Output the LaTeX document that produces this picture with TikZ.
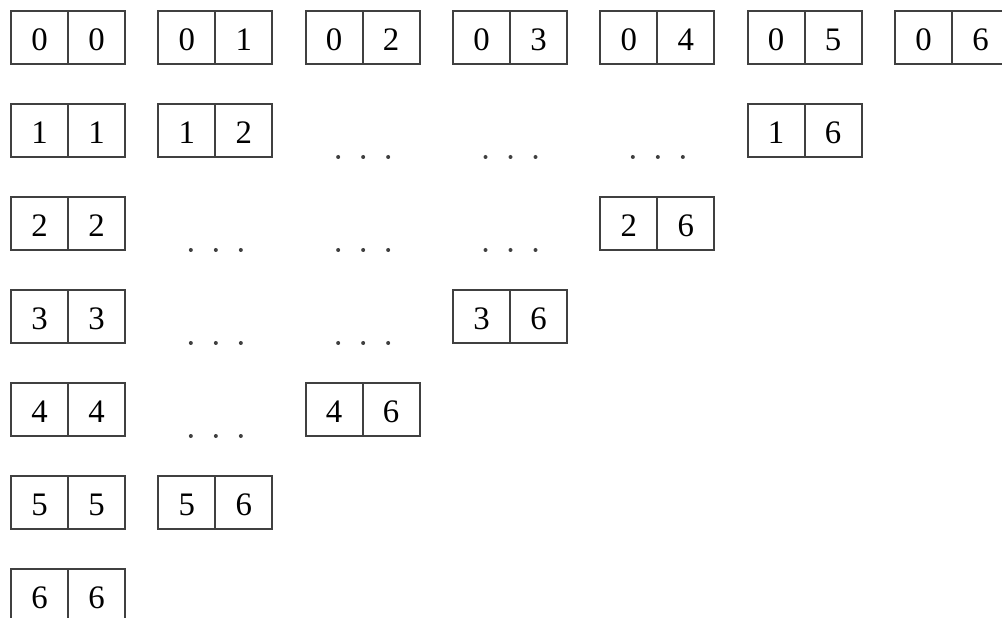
\documentclass[tikz,border=0pt]{standalone}
\usepackage{fontspec}
\setmainfont{Liberation Serif}
\usetikzlibrary{positioning}

\begin{document}
\begin{tikzpicture}[
    x=0.25pt, y=-0.25pt,
    half/.style={draw=black!75, line width=0.5pt, minimum width=14.25pt, minimum height=13.25pt,
        inner sep=0pt, outer sep=0pt, text height=6.3pt, text depth=0pt,
        font=\fontsize{8.2}{10}\selectfont},
    pip/.style={fill=black!75}
]

\useasboundingbox (0,0) rectangle (1002,618);
\clip (0,0) rectangle (1002,618);

% Dominoes: row / column / left half / right half
\foreach \r/\c/\a/\b in {0/0/0/0, 0/1/0/1, 0/2/0/2, 0/3/0/3, 0/4/0/4, 0/5/0/5, 0/6/0/6,
    1/0/1/1, 1/1/1/2, 1/5/1/6,
    2/0/2/2, 2/4/2/6,
    3/0/3/3, 3/3/3/6,
    4/0/4/4, 4/2/4/6,
    5/0/5/5, 5/1/5/6,
    6/0/6/6} {
  \node[half] (l\a\b) at ({39.5+147.33*\c}, {37.5+93*\r}) {\a};
  \node[half, right=0pt of l\a\b] (r\a\b) {\b};
}

% Dots for the left-out dominoes
\foreach \r/\c in {1/2, 1/3, 1/4, 2/1, 2/2, 2/3, 3/1, 3/2, 4/1}
  \foreach \dx in {-25, 0, 25}
    \fill[pip] ({68.5+147.33*\c+\dx}, {64+93*\r}) circle (0.5pt);

\end{tikzpicture}
\end{document}
